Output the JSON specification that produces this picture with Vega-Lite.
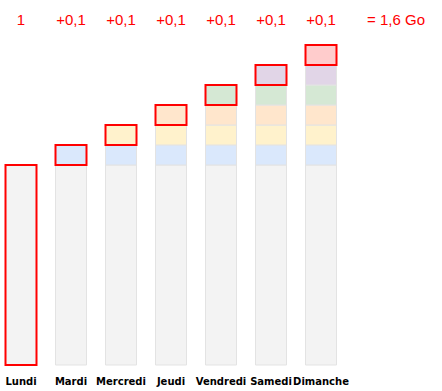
{
  "$schema": "https://vega.github.io/schema/vega-lite/v6.json",
  "width": 442,
  "height": 391,
  "autosize": "none",
  "padding": 0,
  "background": "white",
  "config": {"view": {"stroke": null}},
  "datasets": {
    "segs": [
      {"day": "Lundi", "seg": "base", "v0": 0, "v1": 1, "hl": "yes"},
      {"day": "Mardi", "seg": "base", "v0": 0, "v1": 1, "hl": "no"},
      {"day": "Mardi", "seg": "s1", "v0": 1, "v1": 1.1, "hl": "yes"},
      {"day": "Mercredi", "seg": "base", "v0": 0, "v1": 1, "hl": "no"},
      {"day": "Mercredi", "seg": "s1", "v0": 1, "v1": 1.1, "hl": "no"},
      {"day": "Mercredi", "seg": "s2", "v0": 1.1, "v1": 1.2, "hl": "yes"},
      {"day": "Jeudi", "seg": "base", "v0": 0, "v1": 1, "hl": "no"},
      {"day": "Jeudi", "seg": "s1", "v0": 1, "v1": 1.1, "hl": "no"},
      {"day": "Jeudi", "seg": "s2", "v0": 1.1, "v1": 1.2, "hl": "no"},
      {"day": "Jeudi", "seg": "s3", "v0": 1.2, "v1": 1.3, "hl": "yes"},
      {"day": "Vendredi", "seg": "base", "v0": 0, "v1": 1, "hl": "no"},
      {"day": "Vendredi", "seg": "s1", "v0": 1, "v1": 1.1, "hl": "no"},
      {"day": "Vendredi", "seg": "s2", "v0": 1.1, "v1": 1.2, "hl": "no"},
      {"day": "Vendredi", "seg": "s3", "v0": 1.2, "v1": 1.3, "hl": "no"},
      {"day": "Vendredi", "seg": "s4", "v0": 1.3, "v1": 1.4, "hl": "yes"},
      {"day": "Samedi", "seg": "base", "v0": 0, "v1": 1, "hl": "no"},
      {"day": "Samedi", "seg": "s1", "v0": 1, "v1": 1.1, "hl": "no"},
      {"day": "Samedi", "seg": "s2", "v0": 1.1, "v1": 1.2, "hl": "no"},
      {"day": "Samedi", "seg": "s3", "v0": 1.2, "v1": 1.3, "hl": "no"},
      {"day": "Samedi", "seg": "s4", "v0": 1.3, "v1": 1.4, "hl": "no"},
      {"day": "Samedi", "seg": "s5", "v0": 1.4, "v1": 1.5, "hl": "yes"},
      {"day": "Dimanche", "seg": "base", "v0": 0, "v1": 1, "hl": "no"},
      {"day": "Dimanche", "seg": "s1", "v0": 1, "v1": 1.1, "hl": "no"},
      {"day": "Dimanche", "seg": "s2", "v0": 1.1, "v1": 1.2, "hl": "no"},
      {"day": "Dimanche", "seg": "s3", "v0": 1.2, "v1": 1.3, "hl": "no"},
      {"day": "Dimanche", "seg": "s4", "v0": 1.3, "v1": 1.4, "hl": "no"},
      {"day": "Dimanche", "seg": "s5", "v0": 1.4, "v1": 1.5, "hl": "no"},
      {"day": "Dimanche", "seg": "s6", "v0": 1.5, "v1": 1.6, "hl": "yes"}
    ],
    "labels": [
      {"day": "Lundi", "top": "1"},
      {"day": "Mardi", "top": "+0,1"},
      {"day": "Mercredi", "top": "+0,1"},
      {"day": "Jeudi", "top": "+0,1"},
      {"day": "Vendredi", "top": "+0,1"},
      {"day": "Samedi", "top": "+0,1"},
      {"day": "Dimanche", "top": "+0,1"}
    ],
    "total": [
      {"day": "Dimanche", "text": "= 1,6 Go"}
    ]
  },
  "encoding": {
    "x": {
      "field": "day",
      "type": "nominal",
      "sort": null,
      "axis": null,
      "scale": {
        "domain": ["Lundi", "Mardi", "Mercredi", "Jeudi", "Vendredi", "Samedi", "Dimanche"],
        "range": [-4, 346],
        "paddingInner": 0.38,
        "paddingOuter": 0.19
      }
    }
  },
  "layer": [
    {
      "data": {"name": "segs"},
      "mark": {"type": "bar", "stroke": "#e3e3e3", "strokeWidth": 1},
      "encoding": {
        "y": {
          "field": "v0",
          "type": "quantitative",
          "axis": null,
          "scale": {"domain": [-0.13, 1.825], "nice": false, "zero": false}
        },
        "y2": {"field": "v1"},
        "fill": {
          "field": "seg",
          "type": "nominal",
          "legend": null,
          "scale": {
            "domain": ["base", "s1", "s2", "s3", "s4", "s5", "s6"],
            "range": ["#f3f3f3", "#dae8fc", "#fff2cc", "#ffe6cc", "#d5e8d4", "#e1d5e7", "#ffcccc"]
          }
        }
      }
    },
    {
      "data": {"name": "segs"},
      "transform": [{"filter": "datum.hl === 'yes'"}],
      "mark": {"type": "bar", "fillOpacity": 0, "stroke": "#ff0000", "strokeWidth": 2},
      "encoding": {
        "y": {"field": "v0", "type": "quantitative"},
        "y2": {"field": "v1"}
      }
    },
    {
      "data": {"name": "labels"},
      "mark": {"type": "text", "font": "Liberation Sans", "fontSize": 15, "color": "#ff0000", "baseline": "alphabetic", "align": "center"},
      "encoding": {
        "y": {"datum": 1.70},
        "text": {"field": "top"}
      }
    },
    {
      "data": {"name": "labels"},
      "mark": {"type": "text", "font": "DejaVu Sans", "fontWeight": "bold", "fontSize": 10, "color": "#000000", "baseline": "alphabetic", "align": "center"},
      "encoding": {
        "y": {"datum": -0.1},
        "text": {"field": "day"}
      }
    },
    {
      "data": {"name": "total"},
      "mark": {"type": "text", "font": "Liberation Sans", "fontSize": 15, "color": "#ff0000", "baseline": "alphabetic", "align": "center", "dx": 75},
      "encoding": {
        "y": {"datum": 1.70},
        "text": {"field": "text"}
      }
    }
  ]
}
